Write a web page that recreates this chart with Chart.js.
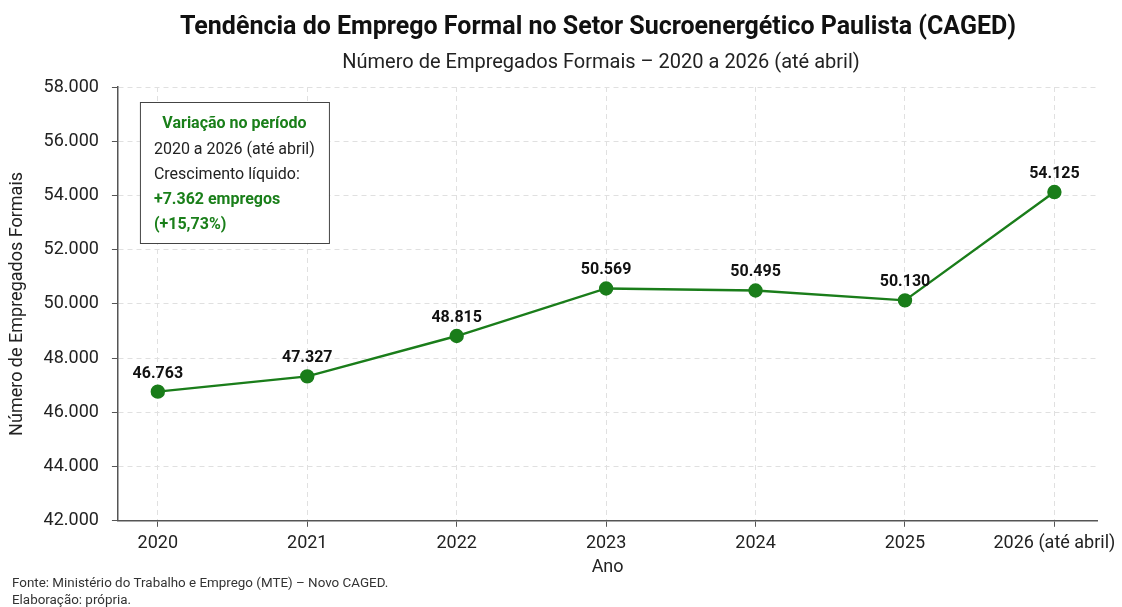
<!DOCTYPE html>
<html>
<head>
<meta charset="utf-8">
<script src="https://cdn.jsdelivr.net/npm/chart.js@4.4.1/dist/chart.umd.min.js"></script>
<style>
  body { margin: 0; background: #fff; }
  canvas { display: block; }
</style>
</head>
<body>
<canvas id="lineChart" width="1122" height="607"></canvas>
<script>
// dados
const anos = ['2020', '2021', '2022', '2023', '2024', '2025', '2026 (até abril)'];
const empregados = [46763, 47327, 48815, 50569, 50495, 50130, 54125];
const yTicks = [42000, 44000, 46000, 48000, 50000, 52000, 54000, 56000, 58000];
const titulo = 'Tendência do Emprego Formal no Setor Sucroenergético Paulista (CAGED)';
const subtitulo = 'Número de Empregados Formais – 2020 a 2026 (até abril)';
const boxLines = [
    { text: 'Variação no período', bold: true, color: '#1a7f1a', center: true },
    { text: '2020 a 2026 (até abril)', bold: false, color: '#222' },
    { text: 'Crescimento líquido:', bold: false, color: '#222' },
    { text: '+7.362 empregos', bold: true, color: '#1a7f1a' },
    { text: '(+15,73%)', bold: true, color: '#1a7f1a' }
];
const fonte = [
    'Fonte: Ministério do Trabalho e Emprego (MTE) – Novo CAGED.',
    'Elaboração: própria.'
];

const green = 'rgb(26, 125, 26)';
const FONT = 'Roboto';

function fmt(n) {
    return String(n).replace(/\B(?=(\d{3})+(?!\d))/g, '.');
}

let ctx = document.getElementById('lineChart').getContext('2d');

// títulos, rótulos dos pontos, caixa de variação e fonte
const extras = {
    id: 'extras',
    afterDatasetsDraw(chart) {
        const c = chart.ctx;
        const meta = chart.getDatasetMeta(0);
        const a = chart.chartArea;
        c.save();
        c.textAlign = 'center';
        c.textBaseline = 'alphabetic';

        c.font = 'bold 25px ' + FONT;
        c.fillStyle = '#111';
        c.fillText(titulo, 598, 34);
        c.font = '20px ' + FONT;
        c.fillStyle = '#222';
        c.fillText(subtitulo, 601, 68);

        c.font = 'bold 16px ' + FONT;
        c.fillStyle = '#111';
        meta.data.forEach((pt, i) => {
            c.fillText(fmt(empregados[i]), pt.x, pt.y - 14);
        });

        // caixa
        const bx = a.left + 22, by = a.top + 15, bw = 189, bh = 141;
        c.fillStyle = '#fff';
        c.fillRect(bx, by, bw, bh);
        c.strokeStyle = '#444';
        c.lineWidth = 1;
        c.strokeRect(bx + 0.5, by + 0.5, bw, bh);
        c.textBaseline = 'middle';
        boxLines.forEach((l, i) => {
            c.font = (l.bold ? 'bold ' : '') + '16px ' + FONT;
            c.fillStyle = l.color;
            if (l.center) {
                c.textAlign = 'center';
                c.fillText(l.text, bx + bw / 2, by + 22);
            } else {
                c.textAlign = 'left';
                c.fillText(l.text, bx + 14, by + 23 + i * 25);
            }
        });

        // fonte
        c.font = '13.4px ' + FONT;
        c.fillStyle = '#333';
        c.textAlign = 'left';
        fonte.forEach((t, i) => c.fillText(t, 12, 584 + i * 17));
        c.restore();
    }
};

var data = {
    datasets: [
        {
            data: empregados.map((v, i) => ({ x: i, y: v })),
            fill: false,
            borderColor: green,
            backgroundColor: green,
            borderWidth: 2.4,
            pointRadius: 6,
            pointBackgroundColor: green,
            pointBorderColor: green,
            tension: 0
        }
    ]
};

var options = {
    responsive: false,
    animation: { duration: 0 },
    layout: { padding: { left: 7, right: 16, bottom: 29, top: 87 } },
    scales: {
        x: {
            type: 'linear',
            min: -0.267,
            max: 6.287,
            afterBuildTicks: (axis) => {
                axis.ticks = anos.map((a, i) => ({ value: i }));
            },
            ticks: {
                callback: (v) => anos[v],
                font: { family: FONT, size: 18 },
                color: '#222',
                padding: 6,
                maxRotation: 0,
                autoSkip: false
            },
            grid: {
                color: '#e0e0e0',
                tickColor: '#555',
                tickLength: 6
            },
            border: { color: '#555', width: 1.5, dash: [5, 4] },
            title: {
                display: true,
                text: 'Ano',
                font: { family: FONT, size: 18 },
                color: '#222',
                padding: { top: -4, bottom: 0 }
            }
        },
        y: {
            min: 42000,
            max: 58000,
            afterBuildTicks: (axis) => {
                axis.ticks = yTicks.map(v => ({ value: v }));
            },
            ticks: {
                callback: (v) => fmt(v),
                font: { family: FONT, size: 18 },
                color: '#222',
                padding: 13
            },
            grid: {
                color: '#e0e0e0',
                tickColor: '#555',
                tickLength: 6
            },
            border: { color: '#555', width: 1.5, dash: [5, 4] },
            title: {
                display: true,
                text: 'Número de Empregados Formais',
                font: { family: FONT, size: 18 },
                color: '#222',
                padding: { top: 0, bottom: 2 }
            }
        }
    },
    plugins: {
        tooltip: { enabled: false },
        legend: { display: false }
    }
};

let chart = new Chart(ctx, {
    type: 'line',
    options: options,
    data: data,
    plugins: [extras]
});
</script>
</body>
</html>
